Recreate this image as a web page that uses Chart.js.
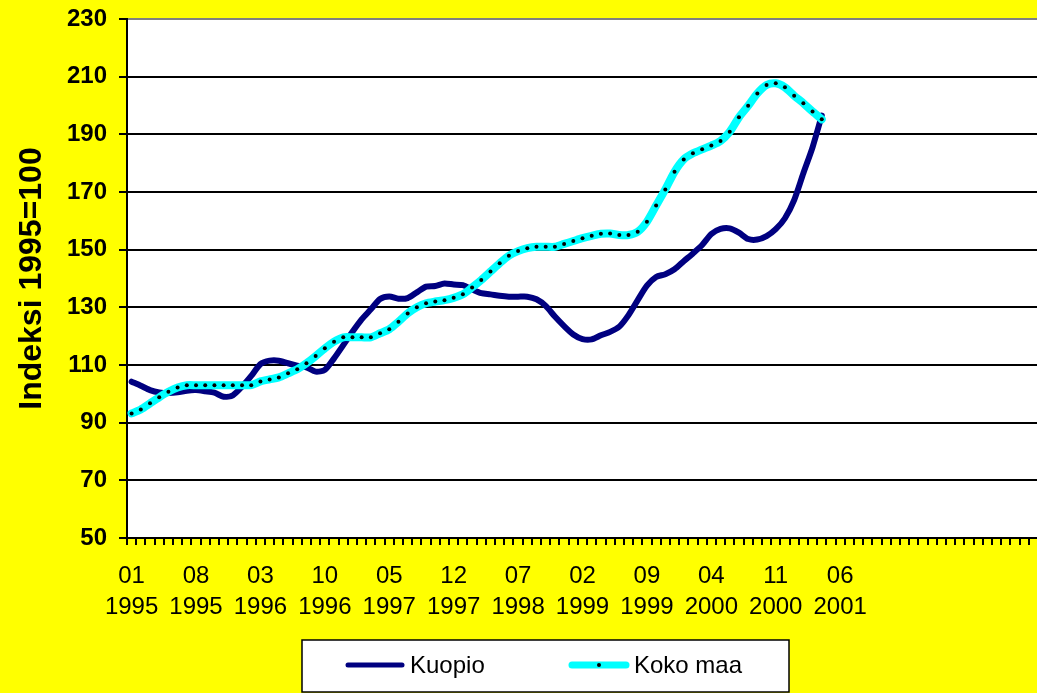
<!DOCTYPE html>
<html>
<head>
<meta charset="utf-8">
<title>Indeksi 1995=100</title>
<script src="https://cdn.jsdelivr.net/npm/chart.js@4.4.1/dist/chart.umd.min.js"></script>
<style>
  html, body { margin: 0; padding: 0; background: #ffff00; overflow: hidden; }
  canvas { display: block; }
</style>
</head>
<body>
<canvas id="chart" width="1040" height="693"></canvas>
<script>
// x-akseli: kuukaudet 01/1995 alkaen, akseli jatkuu tyhjänä oikealle
const firstYear = 1995;
const axisSlots = 99;
const labelEvery = 7;
const lastLabel = '06 2001';

// 01/1995 - 04/2001
const kuopio = [
  104.2, 102.8, 101.3, 100.5, 100.3, 100.5, 101.1, 101.3, 100.9, 100.4, 99.0, 99.5,
  102.5, 106.2, 110.3, 111.5, 111.5, 110.6, 109.8, 109.2, 107.7, 108.3, 112.3, 116.9,
  121.5, 125.8, 129.3, 132.9, 133.8, 133.0, 133.2, 135.2, 137.2, 137.4, 138.3, 137.9,
  137.7, 136.2, 134.9, 134.5, 134.0, 133.7, 133.7, 133.7, 132.8, 130.5, 126.8, 123.5,
  120.6, 119.0, 118.9, 120.3, 121.5, 123.3, 127.3, 132.5, 137.5, 140.5, 141.5, 143.2,
  146.0, 148.7, 151.6, 155.4, 157.2, 157.4, 155.9, 153.7, 153.5, 154.7, 157.1, 160.9,
  167.2, 176.5, 185.5, 196.5
];

const kokoMaa = [
  93.2, 94.6, 96.7, 98.8, 100.7, 102.2, 103.0, 103.0, 103.0, 103.0, 103.0, 103.0,
  103.0, 103.0, 104.3, 105.0, 105.7, 107.1, 108.5, 110.6, 113.1, 115.8, 118.1, 119.6,
  119.6, 119.6, 119.6, 121.0, 122.4, 125.0, 127.9, 130.0, 131.4, 132.0, 132.5, 133.3,
  134.5, 136.9, 139.5, 142.4, 145.3, 147.9, 149.5, 150.5, 151.0, 151.0, 151.0, 152.0,
  153.0, 154.0, 154.8, 155.5, 155.6, 155.1, 155.1, 156.2, 159.7, 165.3, 170.9, 177.0,
  181.3, 183.4, 184.8, 186.1, 187.7, 190.9, 195.9, 199.9, 204.2, 207.1, 207.7, 206.3,
  203.4, 200.8, 197.9, 195.2
];

const months = [];
for (let i = 0; i < axisSlots; i++) {
  const y = firstYear + Math.floor(i / 12);
  const m = String(i % 12 + 1).padStart(2, '0');
  months.push(m + ' ' + y);
}
const lastLabelIndex = months.indexOf(lastLabel);

const FONT = '"Liberation Sans", Arial, sans-serif';

// keltainen tausta + valkoinen piirtoalue
const plotBg = {
  id: 'plotBg',
  beforeDraw(chart) {
    const { ctx, chartArea: a } = chart;
    ctx.save();
    ctx.fillStyle = '#ffff00';
    ctx.fillRect(0, 0, chart.width, chart.height);
    ctx.fillStyle = '#ffffff';
    ctx.fillRect(a.left, a.top, a.right - a.left, a.bottom - a.top);
    ctx.restore();
  }
};

// selite laatikossa (Excel-tyyli)
const boxLegend = {
  id: 'boxLegend',
  afterDraw(chart, args, opts) {
    const ctx = chart.ctx;
    ctx.save();
    ctx.fillStyle = '#ffffff';
    ctx.fillRect(opts.x, opts.y, opts.w, opts.h);
    ctx.strokeStyle = '#000';
    ctx.lineWidth = 1.5;
    ctx.strokeRect(opts.x, opts.y, opts.w, opts.h);
    const cy = opts.y + opts.h / 2 - 1;
    chart.data.datasets.forEach((ds, i) => {
      const x0 = opts.itemX[i];
      ctx.strokeStyle = ds.borderColor;
      ctx.lineWidth = ds.borderWidth - 1;
      ctx.lineCap = 'round';
      ctx.beginPath();
      ctx.moveTo(x0 + 3, cy);
      ctx.lineTo(x0 + opts.sample - 3, cy);
      ctx.stroke();
      if (ds.pointRadius > 0) {
        ctx.fillStyle = ds.pointBackgroundColor;
        ctx.beginPath();
        ctx.arc(x0 + opts.sample / 2, cy, ds.pointRadius, 0, Math.PI * 2);
        ctx.fill();
      }
      ctx.fillStyle = '#000';
      ctx.font = '24px ' + FONT;
      ctx.textAlign = 'left';
      ctx.textBaseline = 'middle';
      ctx.fillText(ds.label, x0 + opts.sample + 5, cy + 1);
    });
    ctx.restore();
  }
};

new Chart(document.getElementById('chart'), {
  type: 'line',
  data: {
    labels: months,
    datasets: [
      {
        label: 'Kuopio',
        data: kuopio,
        borderColor: '#000080',
        borderWidth: 6,
        pointRadius: 0,
        pointHoverRadius: 0,
        tension: 0.25,
        borderCapStyle: 'round',
        borderJoinStyle: 'round',
        fill: false,
        order: 1
      },
      {
        label: 'Koko maa',
        data: kokoMaa,
        borderColor: '#00ffff',
        borderWidth: 8,
        pointRadius: 2,
        pointHoverRadius: 2,
        pointBackgroundColor: '#000',
        pointBorderWidth: 0,
        tension: 0.25,
        borderCapStyle: 'round',
        borderJoinStyle: 'round',
        fill: false,
        order: 0
      }
    ]
  },
  options: {
    responsive: false,
    animation: false,
    events: [],
    layout: { padding: { top: 19, right: 0, bottom: 0, left: 0 } },
    plugins: {
      legend: { display: false },
      tooltip: { enabled: false },
      boxLegend: { x: 302, y: 640, w: 487, h: 52, sample: 60, itemX: [345, 569] }
    },
    scales: {
      x: {
        type: 'category',
        offset: true,
        grid: {
          offset: true,
          drawOnChartArea: false,
          drawTicks: true,
          tickLength: 7,
          color: '#000',
          lineWidth: 2
        },
        border: { color: '#000', width: 2 },
        ticks: {
          autoSkip: false,
          maxRotation: 0,
          minRotation: 0,
          padding: 16,
          color: '#000',
          font: { family: FONT, size: 24, lineHeight: 1.3 },
          callback(v, i) {
            return (i % labelEvery === 0 && i <= lastLabelIndex) ? months[i].split(' ') : '';
          }
        },
        afterFit(s) {
          s.height = 155;
          s.paddingLeft = 0;
          s.paddingRight = 0;
        }
      },
      y: {
        min: 50,
        max: 230,
        ticks: {
          stepSize: 20,
          padding: 12,
          color: '#000',
          font: { family: FONT, size: 24, weight: 'bold' }
        },
        grid: {
          color: c => (c.tick && c.tick.value === 230) ? '#808080' : '#000',
          lineWidth: 2,
          tickLength: 8,
          tickColor: '#000'
        },
        border: { color: '#000', width: 2 },
        title: {
          display: true,
          text: 'Indeksi 1995=100',
          color: '#000',
          font: { family: FONT, size: 32, weight: 'bold', lineHeight: 1.2 },
          padding: { top: 13, bottom: 0 }
        },
        afterFit(s) {
          s.width = 127;
          s.paddingTop = 0;
          s.paddingBottom = 0;
        }
      }
    }
  },
  plugins: [plotBg, boxLegend]
});
</script>
</body>
</html>
